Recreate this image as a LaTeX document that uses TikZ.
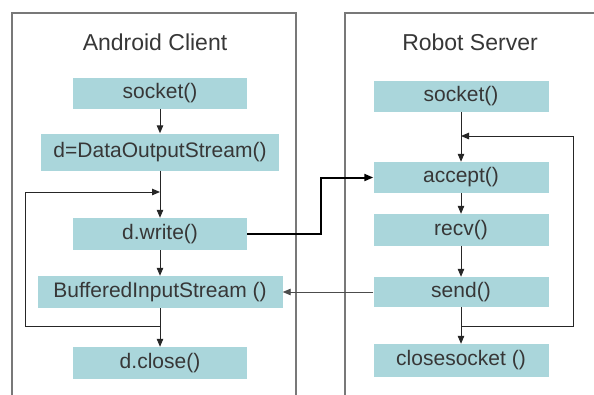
\documentclass[tikz,border=0pt]{standalone}
\usepackage{fontspec}
\setmainfont{Liberation Sans}
\usetikzlibrary{arrows.meta}
\definecolor{boxfill}{RGB}{170,214,219}
\definecolor{txt}{RGB}{55,55,55}
\definecolor{panel}{RGB}{120,120,120}
\tikzset{
  stepbox/.style={fill=boxfill, draw=none, minimum height=31pt, inner sep=0pt,
    text=txt, font=\fontsize{21}{24}\selectfont},
  title/.style={text=txt, font=\fontsize{23}{26}\selectfont, inner sep=0pt},
  flow/.style={draw=black!85, line width=1pt, -{Triangle[length=8pt,width=6.5pt]}},
  flowline/.style={draw=black!85, line width=1pt},
  thick flow/.style={draw=black, line width=2pt, -{Triangle[length=9pt,width=7pt]}},
  back flow/.style={draw=black!70, line width=0.9pt, -{Triangle[length=8pt,width=6.5pt]}},
  panelbox/.style={draw=panel, line width=1.3pt},
}
\begin{document}
\begin{tikzpicture}[x=1pt,y=-1pt]
\path[use as bounding box, clip] (0,0) rectangle (594,394);
\fill[white] (0,0) rectangle (594,394);
% panels
\draw[panelbox] (12,420) -- (12,13) -- (296,13) -- (296,420);
\draw[panelbox] (345,420) -- (345,13) -- (620,13);
% titles
\node[title] (lt) at (155,42) {Android Client};
\node[title] (rt) at (470,42) {Robot Server};
% left column
\node[stepbox, minimum width=174pt] (ls) at (160,93) {socket()};
\node[stepbox, minimum width=238pt, minimum height=37pt] (ldos) at (160,152) {d=DataOutputStream()};
\node[stepbox, minimum width=174pt, minimum height=32pt] (lw) at (160,234) {d.write()};
\node[stepbox, minimum width=245pt, minimum height=32pt] (lbis) at (160,292) {BufferedInputStream ()};
\node[stepbox, minimum width=174pt, minimum height=32pt] (lc) at (160,363) {d.close()};
% right column
\node[stepbox, minimum width=175pt] (rs) at (461,96.5) {socket()};
\node[stepbox, minimum width=175pt] (ra) at (461,177.5) {accept()};
\node[stepbox, minimum width=175pt, minimum height=32pt] (rr) at (461,230) {recv()};
\node[stepbox, minimum width=175pt, minimum height=30pt] (rsd) at (461,292) {send()};
\node[stepbox, minimum width=175pt, minimum height=33pt] (rc) at (461,360.5) {closesocket ()};
% helper coordinates
\coordinate (lj1) at (160,326);
\coordinate (lcorner1) at (25,326);
\coordinate (lcorner2) at (25,192);
\coordinate (lj2) at (160,192);
\coordinate (mid) at (321,0);
\coordinate (rj1) at (461,326);
\coordinate (rcorner1) at (573,326);
\coordinate (rcorner2) at (573,136);
\coordinate (rj2) at (461,136);
% left arrows
\draw[flow] (ls) -- (ldos);
\draw[flow] (ldos) -- (lw);
\draw[flow] (lw) -- (lbis);
\draw[flow] (lbis) -- (lc);
\draw[flow] (lj1) -- (lcorner1) -- (lcorner2) -- (lj2);
% right arrows
\draw[flow] (rs) -- (ra);
\draw[flow] (ra) -- (rr);
\draw[flow] (rr) -- (rsd);
\draw[flow] (rsd) -- (rc);
\draw[flow] (rj1) -- (rcorner1) -- (rcorner2) -- (rj2);
% cross arrows
\draw[thick flow] (lw.east) -| (mid |- ra.west) -- (ra.west);
\draw[back flow] (rsd.west) -- (lbis.east);
\end{tikzpicture}
\end{document}
